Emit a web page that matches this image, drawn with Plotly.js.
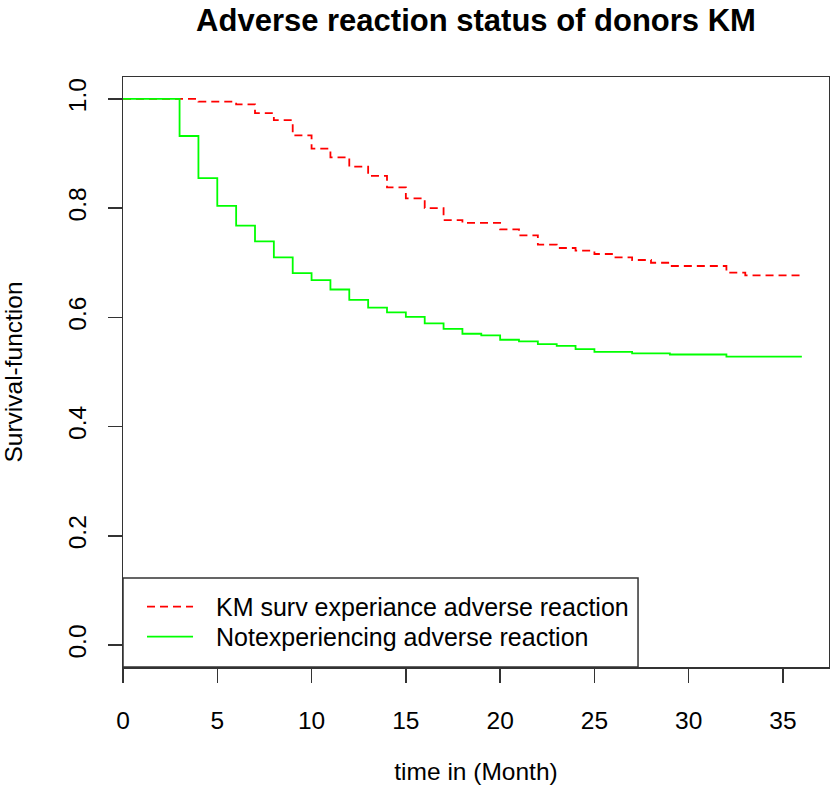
<!DOCTYPE html>
<html>
<head>
<meta charset="utf-8">
<script src="https://cdn.plot.ly/plotly-3.0.1.min.js"></script>
<style>
  html, body { margin: 0; padding: 0; background: #ffffff; }
  #chart { width: 830px; height: 786px; }
</style>
</head>
<body>
<div id="chart"></div>
<script>
// Kaplan-Meier survival estimates by month for the two donor groups
const monthsAdverse = [0, 4, 6, 7, 8, 9, 10, 11, 12, 13, 14, 15, 16, 17, 18, 20, 21, 22, 23, 24, 25, 26, 27, 28, 29, 32, 33, 36];
const survAdverse   = [1.000, 0.995, 0.990, 0.974, 0.961, 0.933, 0.909, 0.893, 0.876, 0.859, 0.838, 0.818, 0.800, 0.778, 0.773, 0.761, 0.750, 0.733, 0.727, 0.722, 0.716, 0.710, 0.705, 0.700, 0.694, 0.682, 0.677, 0.677];

const monthsNone = [0, 3, 4, 5, 6, 7, 8, 9, 10, 11, 12, 13, 14, 15, 16, 17, 18, 19, 20, 21, 22, 23, 24, 25, 27, 29, 32, 36];
const survNone   = [1.000, 0.932, 0.855, 0.804, 0.768, 0.739, 0.710, 0.681, 0.668, 0.651, 0.632, 0.618, 0.609, 0.601, 0.589, 0.579, 0.570, 0.567, 0.559, 0.556, 0.551, 0.548, 0.542, 0.537, 0.534, 0.532, 0.528, 0.528];

const seriesNames = ['KM surv experiance adverse reaction', 'Notexperiencing adverse reaction'];
const xTicks = [0, 5, 10, 15, 20, 25, 30, 35];
const yTicks = [0, 0.2, 0.4, 0.6, 0.8, 1.0];
const yTickText = ['0.0', '0.2', '0.4', '0.6', '0.8', '1.0'];

const FONT = 'Liberation Sans, Arial, Helvetica, sans-serif';
const RED = '#ff0000';
const GREEN = '#00ff00';
const AXIS = '#333333';
const DASH = '8px,5px';
const LABEL_SIZE = 24.5;

const traces = [
  {
    x: monthsAdverse, y: survAdverse, name: seriesNames[0],
    type: 'scatter', mode: 'lines',
    line: { shape: 'hv', color: RED, width: 1.8, dash: DASH },
    showlegend: false, hoverinfo: 'x+y'
  },
  {
    x: monthsNone, y: survNone, name: seriesNames[1],
    type: 'scatter', mode: 'lines',
    line: { shape: 'hv', color: GREEN, width: 1.8 },
    showlegend: false, hoverinfo: 'x+y'
  }
];

// boxed key in the lower-left corner of the plotting region
const keyRight = 0.7295, keyTop = 0.1508;
const keyLineX0 = 0.034, keyLineX1 = 0.0992, keyTextX = 0.1289;
const keyRowY = [0.1022, 0.0514];

const shapes = [
  { type: 'rect', xref: 'paper', yref: 'paper', x0: 0, x1: keyRight, y0: 0, y1: keyTop,
    line: { color: AXIS, width: 1.5 }, fillcolor: 'rgba(255,255,255,0)' },
  { type: 'line', xref: 'paper', yref: 'paper', x0: keyLineX0, x1: keyLineX1, y0: keyRowY[0], y1: keyRowY[0],
    line: { color: RED, width: 1.8, dash: DASH } },
  { type: 'line', xref: 'paper', yref: 'paper', x0: keyLineX0, x1: keyLineX1, y0: keyRowY[1], y1: keyRowY[1],
    line: { color: GREEN, width: 1.8 } }
];

const annotations = seriesNames.map((name, i) => ({
  text: name, xref: 'paper', yref: 'paper', x: keyTextX, y: keyRowY[i],
  xanchor: 'left', yanchor: 'middle', showarrow: false,
  font: { family: FONT, size: 25, color: '#000000' }
}));

const axisCommon = {
  showgrid: false, zeroline: false,
  showline: true, mirror: true, linecolor: AXIS, linewidth: 1.5,
  ticks: 'outside', ticklen: 14, tickwidth: 1.5, tickcolor: AXIS,
  tickfont: { family: FONT, size: LABEL_SIZE, color: '#000000' },
  fixedrange: true
};

const layout = {
  width: 830, height: 786,
  margin: { l: 123, r: 1, t: 77, b: 119 },
  paper_bgcolor: '#ffffff', plot_bgcolor: '#ffffff',
  font: { family: FONT, color: '#000000' },
  title: {
    text: 'Adverse reaction status of donors KM',
    font: { family: FONT, size: 31, weight: 'bold', color: '#000000' },
    x: 0.5, xref: 'paper', xanchor: 'center',
    y: 0.974, yref: 'container', yanchor: 'middle'
  },
  xaxis: Object.assign({}, axisCommon, {
    range: [0, 37.44],
    tickmode: 'array', tickvals: xTicks,
    ticklabelstandoff: 17,
    title: { text: 'time in (Month)', font: { family: FONT, size: LABEL_SIZE, color: '#000000' }, standoff: 30 }
  }),
  yaxis: Object.assign({}, axisCommon, {
    range: [-0.04, 1.04],
    tickmode: 'array', tickvals: yTicks, ticktext: yTickText,
    tickangle: -90,
    ticklabelstandoff: 12,
    title: { text: 'Survival-function', font: { family: FONT, size: LABEL_SIZE, color: '#000000' }, standoff: 38 }
  }),
  shapes: shapes,
  annotations: annotations,
  showlegend: false
};

Plotly.newPlot('chart', traces, layout, { displayModeBar: false, staticPlot: true });
</script>
</body>
</html>
